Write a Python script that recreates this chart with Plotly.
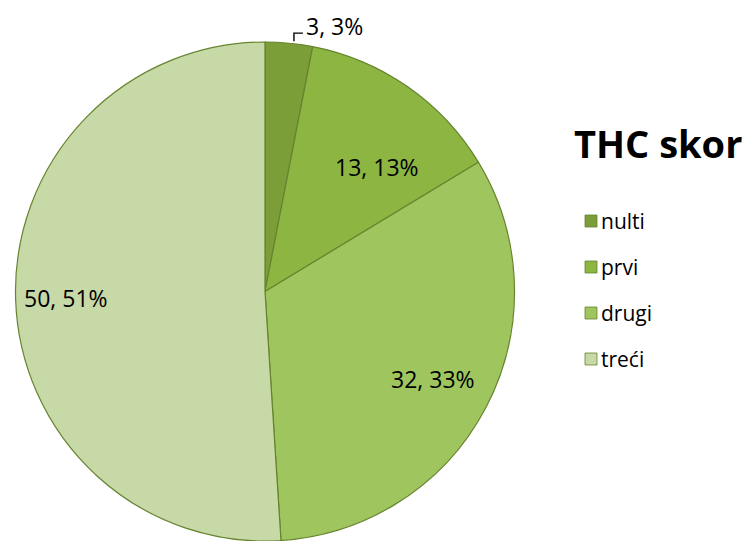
import math
import plotly.graph_objects as go

# THC score distribution
categories = ["nulti", "prvi", "drugi", "treći"]
counts = [3, 13, 32, 50]
colors = ["#7B9E38", "#8CB542", "#9FC65E", "#C7D9A7"]

W, H = 747, 541
CX, CY, R = 265, 291.5, 249.5  # pie centre and radius in pixels


def px(x):
    return x / W


def py(y):
    return min(1.0, max(0.0, 1 - y / H))


fig = go.Figure(
    go.Pie(
        labels=categories,
        values=counts,
        sort=False,
        direction="clockwise",
        rotation=0,
        marker=dict(colors=colors, line=dict(color="#66842E", width=1.2)),
        textinfo="none",
        hoverinfo="label+value+percent",
        showlegend=False,
        domain=dict(x=[px(CX - R), px(CX + R)], y=[py(CY + R), py(CY - R)]),
    )
)

total = sum(counts)
annotations = []
shapes = []
label_font = dict(family="Open Sans, sans-serif", size=23, color="#000000")

# data labels "value, percent" placed along each slice's mid-angle
radius_frac = [None, 0.67, 0.76, 0.80]
angle_shift = [0, 7, 0, 0]
start = 0.0
for i, v in enumerate(counts):
    sweep = 360.0 * v / total
    mid = start + sweep / 2 + angle_shift[i]
    start += sweep
    text = f"{v}, {round(100 * v / total)}%"
    if radius_frac[i] is None:
        # small slice: label outside with an elbow leader line
        ex = CX + R * math.sin(math.radians(mid))
        ey = CY - R * math.cos(math.radians(mid))
        shapes.append(dict(
            type="path", xref="paper", yref="paper",
            path=f"M {px(ex + 5)} {py(ey - 2)} L {px(ex + 5)} {py(ey - 10)} L {px(ex + 14)} {py(ey - 10)}",
            line=dict(color="#000000", width=1.4),
        ))
        annotations.append(dict(
            x=px(ex + 15), y=py(ey - 17), xref="paper", yref="paper",
            text=text, showarrow=False, xanchor="left", yanchor="middle",
            font=label_font,
        ))
    else:
        r = R * radius_frac[i]
        lx = CX + r * math.sin(math.radians(mid))
        ly = CY - r * math.cos(math.radians(mid))
        annotations.append(dict(
            x=px(lx), y=py(ly), xref="paper", yref="paper",
            text=text, showarrow=False, xanchor="center", yanchor="middle",
            font=label_font,
        ))

# title
annotations.append(dict(
    x=px(572), y=py(143), xref="paper", yref="paper",
    text="<b>THC skor</b>", showarrow=False, xanchor="left", yanchor="middle",
    font=dict(family="Open Sans, sans-serif", size=38, color="#000000"),
))

# legend
for i, (name, col) in enumerate(zip(categories, colors)):
    yc = 221 + 46 * i
    shapes.append(dict(
        type="rect", xref="paper", yref="paper",
        x0=px(585), x1=px(597), y0=py(yc + 6), y1=py(yc - 6),
        fillcolor=col, line=dict(color="#66842E", width=0.8),
    ))
    annotations.append(dict(
        x=px(599), y=py(yc), xref="paper", yref="paper",
        text=name, showarrow=False, xanchor="left", yanchor="middle",
        font=dict(family="Open Sans, sans-serif", size=21, color="#000000"),
    ))

fig.update_layout(
    width=W, height=H,
    margin=dict(l=0, r=0, t=0, b=0),
    paper_bgcolor="#FFFFFF",
    plot_bgcolor="#FFFFFF",
    annotations=annotations,
    shapes=shapes,
)

fig.write_html("out.html")
